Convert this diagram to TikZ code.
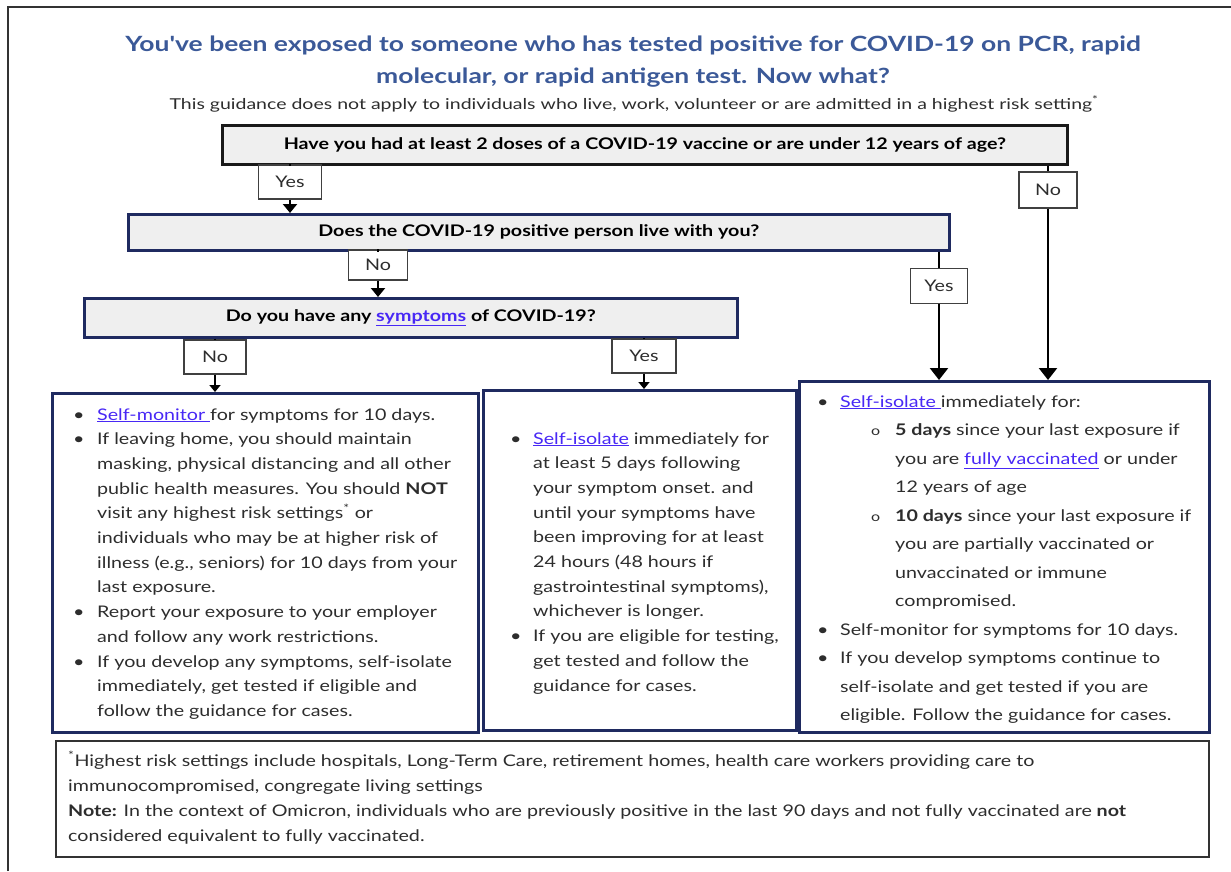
\documentclass[tikz,border=0pt]{standalone}
\usepackage{fontspec}
\setmainfont[FakeStretch=1.23]{Lato}
\newfontfamily\titlefont[FakeStretch=1.26]{Lato}
\newfontfamily\subfont[FakeStretch=1.3]{Lato}
\usetikzlibrary{arrows.meta}
\definecolor{navy}{RGB}{31,42,96}
\definecolor{titleblue}{RGB}{59,89,152}
\definecolor{txt}{RGB}{45,45,45}
\definecolor{linkc}{RGB}{72,40,245}
\definecolor{qfill}{RGB}{239,239,239}
\newcommand\lnk[1]{\textcolor{linkc}{\underline{#1}}}
\newcommand\bulA{\makebox[24pt][l]{\char"2022}}
\newcommand\bulB{\makebox[23pt][l]{\char"2022}}
\newcommand\subb{\makebox[55pt][l]{\hspace{31pt}{\fontsize{13}{13}\selectfont o}}}
\tikzset{
  qbox/.style={draw=navy, line width=2.6pt, fill=qfill, anchor=north west, inner sep=0pt, font=\fontsize{16}{19}\selectfont\bfseries, text=black},
  obox/.style={draw=navy, line width=2.6pt, anchor=north west, inner sep=0pt},
  lbl/.style={draw=black!75, line width=1.3pt, fill=white, inner sep=0pt, font=\fontsize{16}{19}\selectfont, text=txt},
  body/.style={anchor=base west, inner sep=0pt, text=txt, align=left},
  conn/.style={line width=2.2pt, -{Triangle[width=14pt,length=9pt]}},
  connsmall/.style={line width=1.6pt, -{Triangle[width=11pt,length=7pt]}},
  connbig/.style={line width=2.4pt, -{Triangle[width=18pt,length=12pt]}},
}
\begin{document}
\begin{tikzpicture}[x=1pt,y=-1pt]
\useasboundingbox (0,0) rectangle (1231,871);
% outer frame
\draw[line width=1.8pt, black!80] (8,871) -- (8,7) -- (1231,7);
% title (anchored at the baseline of its last line)
\node[anchor=base, inner sep=0pt, align=center, text=titleblue, font=\titlefont\fontsize{21}{32}\selectfont\bfseries] (title) at (633,83)
 {You've been exposed to someone who has tested positive for COVID-19 on PCR, rapid\\molecular, or rapid antigen test. Now what?};
\node[anchor=base, inner sep=0pt, text=txt, font=\subfont\fontsize{15}{18}\selectfont] (sub) at (634,109)
 {This guidance does not apply to individuals who live, work, volunteer or are admitted in a highest risk setting\textsuperscript{*}};
% question boxes
\node[qbox, draw=black!90, minimum width=845pt, minimum height=39pt] (q1) at (221,124)
 {Have you had at least 2 doses of a COVID-19 vaccine or are under 12 years of age?};
\node[qbox, minimum width=821pt, minimum height=36pt] (q2) at (127,213)
 {Does the COVID-19 positive person live with you?};
\node[qbox, minimum width=653pt, minimum height=39pt] (q3) at (83,297)
 {Do you have any \lnk{symptoms} of COVID-19?};
% outcome boxes
\node[obox, minimum width=426pt, minimum height=339pt] (a) at (51,392) {};
\node[obox, minimum width=313pt, minimum height=340pt] (b) at (482,389) {};
\node[obox, minimum width=410pt, minimum height=351pt] (c) at (798,380) {};
\node[draw=black!80, line width=1.6pt, anchor=north west, minimum width=1153pt, minimum height=116pt, inner sep=0pt] (f) at (55,740) {};
% labels
\node[lbl, minimum width=63pt, minimum height=34pt] (y1) at (290,182) {Yes};
\node[lbl, minimum width=58pt, minimum height=36pt] (n1) at (1048,190) {No};
\node[lbl, minimum width=59pt, minimum height=30pt] (n2) at (378,265) {No};
\node[lbl, minimum width=57pt, minimum height=35pt] (y2) at (939,286) {Yes};
\node[lbl, minimum width=62pt, minimum height=34pt] (n3) at (215,357) {No};
\node[lbl, minimum width=64pt, minimum height=34pt] (y3) at (644,356) {Yes};
% connectors
\draw[conn, -] (y1 |- q1.south) -- (y1.north);
\draw[conn] (y1.south) -- (y1 |- q2.north);
\draw[connbig, -] (n1 |- q1.south) -- (n1.north);
\draw[connbig] (n1.south) -- (n1 |- c.north);
\draw[conn, -] (n2 |- q2.south) -- (n2.north);
\draw[conn] (n2.south) -- (n2 |- q3.north);
\draw[connbig, -] (y2 |- q2.south) -- (y2.north);
\draw[connbig] (y2.south) -- (y2 |- c.north);
\draw[connsmall, -] (n3 |- q3.south) -- (n3.north);
\draw[connsmall] (n3.south) -- (n3 |- a.north);
\draw[connsmall, -] (y3 |- q3.south) -- (y3.north);
\draw[connsmall] (y3.south) -- (y3 |- b.north);
% box A text
\node[body, font=\fontsize{16}{24.7}\selectfont] (ta) at (73,420) {\begin{tabular}[t]{@{}l@{}l@{}}
\bulA & \lnk{Self-monitor\ }for symptoms for 10 days.\\
\bulA & If leaving home, you should maintain\\
& masking, physical distancing and all other\\
& public health measures. You should \textbf{NOT}\\
& visit any highest risk settings\textsuperscript{*} or\\
& individuals who may be at higher risk of\\
& illness (e.g., seniors) for 10 days from your\\
& last exposure.\\
\bulA & Report your exposure to your employer\\
& and follow any work restrictions.\\
\bulA & If you develop any symptoms, self-isolate\\
& immediately, get tested if eligible and\\
& follow the guidance for cases.
\end{tabular}};
% box B text
\node[body, font=\fontsize{16}{24.7}\selectfont] (tb) at (510,444) {\begin{tabular}[t]{@{}l@{}l@{}}
\bulB & \lnk{Self-isolate} immediately for\\
& at least 5 days following\\
& your symptom onset. and\\
& until your symptoms have\\
& been improving for at least\\
& 24 hours (48 hours if\\
& gastrointestinal symptoms),\\
& whichever is longer.\\
\bulB & If you are eligible for testing,\\
& get tested and follow the\\
& guidance for cases.
\end{tabular}};
% box C text
\node[body, font=\fontsize{16}{28.5}\selectfont] (tc) at (817,407) {\begin{tabular}[t]{@{}l@{}l@{}l@{}}
\bulB & \multicolumn{2}{@{}l@{}}{\lnk{Self-isolate\ }immediately for:}\\
& \subb & \textbf{5 days} since your last exposure if\\
& & you are \lnk{fully vaccinated} or under\\
& & 12 years of age\\
& \subb & \textbf{10 days} since your last exposure if\\
& & you are partially vaccinated or\\
& & unvaccinated or immune\\
& & compromised.\\
\bulB & \multicolumn{2}{@{}l@{}}{Self-monitor for symptoms for 10 days.}\\
\bulB & \multicolumn{2}{@{}l@{}}{If you develop symptoms continue to}\\
& \multicolumn{2}{@{}l@{}}{self-isolate and get tested if you are}\\
& \multicolumn{2}{@{}l@{}}{eligible. Follow the guidance for cases.}
\end{tabular}};
% footnote (anchored at the baseline of its last line)
\node[body, font=\fontsize{16}{25}\selectfont] (tf) at (68,841) {\textsuperscript{*}Highest risk settings include hospitals, Long-Term Care, retirement homes, health care workers providing care to\\
immunocompromised, congregate living settings\\
\textbf{Note:} In the context of Omicron, individuals who are previously positive in the last 90 days and not fully vaccinated are \textbf{not}\\
considered equivalent to fully vaccinated.};
\end{tikzpicture}
\end{document}
